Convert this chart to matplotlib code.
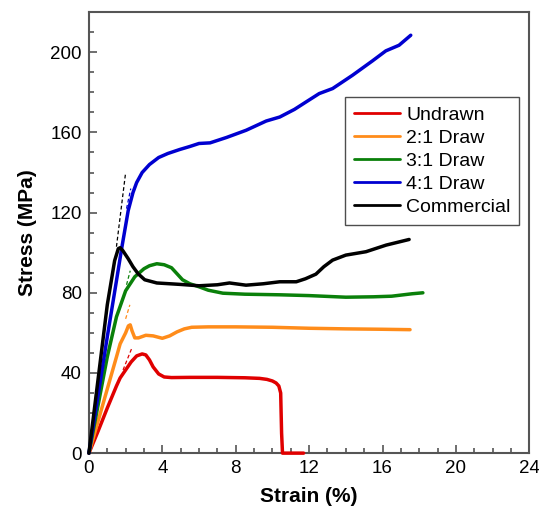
import matplotlib
matplotlib.use("Agg")
import matplotlib.pyplot as plt
from matplotlib.ticker import MultipleLocator

plt.rcParams['font.family'] = ['Liberation Sans', 'DejaVu Sans']

# stress-strain curves (strain %, stress MPa)
undrawn_strain = [0, 0.5, 1.0, 1.5, 1.7, 2.0, 2.3, 2.6, 2.9, 3.1, 3.3, 3.5, 3.8, 4.1, 4.5,
                  5.5, 7, 8.5, 9.3, 9.7, 10.0, 10.2, 10.35, 10.45, 10.5, 10.55, 11.7]
undrawn_stress = [0, 11, 22.5, 33.5, 37.5, 41.5, 45.5, 48.5, 49.5, 49, 46.5, 43, 39.5, 38, 37.7,
                  37.8, 37.8, 37.6, 37.3, 36.8, 36, 35, 33.5, 30, 10, 0, 0]

draw2_strain = [0, 0.5, 1.0, 1.5, 1.7, 2.0, 2.15, 2.25, 2.35, 2.5, 2.7, 3.1, 3.5, 4.0, 4.4,
                4.8, 5.2, 5.6, 6.5, 8, 10, 12, 14, 16, 17.5]
draw2_stress = [0, 16, 32, 48, 54.5, 60, 63.5, 64, 61, 57.5, 57.5, 58.8, 58.5, 57.3, 58.5,
                60.5, 62, 62.8, 63, 63, 62.8, 62.3, 62, 61.8, 61.6]

draw3_strain = [0, 0.5, 1.0, 1.5, 2.0, 2.5, 3.0, 3.3, 3.7, 4.1, 4.5, 4.8, 5.1, 5.5, 6.0,
                6.5, 7.3, 8.5, 10.4, 12, 14, 15.5, 16.5, 17.6, 18.2]
draw3_stress = [0, 24, 48, 68, 81, 88, 92, 93.5, 94.5, 94, 92.5, 89.5, 86.5, 84.5, 83,
                81.3, 79.8, 79.3, 79, 78.6, 77.8, 78, 78.3, 79.5, 80]

draw4_strain = [0, 0.5, 1.0, 1.5, 1.8, 2.14, 2.4, 2.6, 2.9, 3.3, 3.8, 4.3, 4.95, 5.5, 6.0,
                6.6, 7.5, 8.57, 9.66, 10.4, 11.2, 11.83, 12.55, 13.28, 14.36, 15.45, 16.18,
                16.9, 17.54]
draw4_stress = [0, 29, 58, 86, 103, 121, 130, 135, 140, 144, 147.5, 149.5, 151.5, 153, 154.5,
                154.8, 157.5, 161.1, 165.7, 167.7, 171.5, 175.2, 179.4, 181.9, 188.5, 195.7, 200.7,
                203.5, 208.5]

comm_strain = [0, 0.5, 1.0, 1.4, 1.6, 1.7, 1.85, 2.14, 2.4, 2.68, 3.04, 3.7, 4.95, 6.0, 7.0,
               7.66, 8.56, 9.5, 10.4, 11.3, 11.8, 12.37, 12.8, 13.28, 14.0, 15.1, 16.2, 17.45]
comm_stress = [0, 37, 74, 96, 102, 102.5, 101, 97, 93, 89.5, 86.5, 84.9, 84.2, 83.5, 84,
               84.9, 83.8, 84.5, 85.5, 85.5, 87, 89.3, 93, 96.3, 98.8, 100.5, 103.8, 106.6]

# short dashed tangent lines (strain start/end, stress start/end)
tan_strain = [(1.86, 2.32), (2.0, 2.23), (2.05, 2.25), (2.05, 2.28), (1.5, 2.0)]
tan_stress = [(41.5, 52), (67, 74), (84, 91), (122, 132), (103, 140)]

labels = ["Undrawn", "2:1 Draw", "3:1 Draw", "4:1 Draw", "Commercial"]
colors = ["#e00000", "#ff8c1a", "#0a800a", "#0000d0", "#000000"]

fig = plt.figure(figsize=(5.39, 5.08), dpi=100)
ax = fig.add_axes([0.165, 0.108, 0.817, 0.868])

curves = [(undrawn_strain, undrawn_stress), (draw2_strain, draw2_stress),
          (draw3_strain, draw3_stress), (draw4_strain, draw4_stress),
          (comm_strain, comm_stress)]
for (xs, ys), lab, c in zip(curves, labels, colors):
    ax.plot(xs, ys, color=c, lw=2.5, label=lab, solid_capstyle='round',
            clip_on=False, zorder=3)

for xs, ys, c in zip(tan_strain, tan_stress, colors):
    ax.plot(xs, ys, color=c, lw=0.9, dashes=(3, 2))

ax.set_xlim(0, 24)
ax.set_ylim(0, 220)
ax.xaxis.set_major_locator(MultipleLocator(4))
ax.xaxis.set_minor_locator(MultipleLocator(1))
ax.yaxis.set_major_locator(MultipleLocator(40))
ax.yaxis.set_minor_locator(MultipleLocator(10))
ax.tick_params(which='both', direction='in', color='#555555', labelsize=13.5, width=1.2)
ax.tick_params(which='major', length=6, pad=5)
ax.tick_params(which='minor', length=3.5)
for sp in ax.spines.values():
    sp.set_color('#555555')
    sp.set_linewidth(1.5)

ax.set_xlabel("Strain (%)", fontsize=15, fontweight='bold', labelpad=7)
ax.set_ylabel("Stress (MPa)", fontsize=15, fontweight='bold', labelpad=10)

leg = ax.legend(loc='upper left', bbox_to_anchor=(0.581, 0.807), borderaxespad=0,
                fontsize=14, frameon=True, fancybox=False, handlelength=2.4,
                handletextpad=0.3, labelspacing=0.28, borderpad=0.45)
leg.get_frame().set_edgecolor('#222222')
leg.get_frame().set_linewidth(1.0)
for ln in leg.get_lines():
    ln.set_linewidth(2.0)

fig.savefig("out.png", dpi=100)
